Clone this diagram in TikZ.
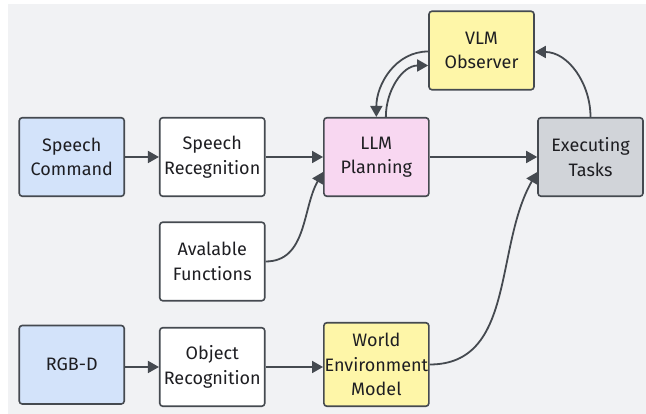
\documentclass[tikz,border=0pt]{standalone}
\usepackage{fontspec}
\setmainfont{Fira Sans}
\usetikzlibrary{arrows.meta}
\definecolor{bg}{HTML}{F1F2F4}
\definecolor{edge}{HTML}{454A50}
\definecolor{txt}{HTML}{1E1E22}
\definecolor{blue}{HTML}{D3E3FA}
\definecolor{pink}{HTML}{F8D7F1}
\definecolor{yell}{HTML}{FEF6A8}
\definecolor{grey}{HTML}{D1D4D9}
\begin{document}
\begin{tikzpicture}[x=1pt,y=1pt,
  box/.style={draw=edge, line width=1.6pt, rounded corners=3pt, minimum width=105pt,
    minimum height=78.5pt, inner sep=0pt, align=center, text=txt,
    font=\fontsize{18}{24.5}\selectfont},
  arr/.style={draw=edge, line width=1.8pt, -{Triangle[length=11pt,width=12pt]}}]
\useasboundingbox (0,0) rectangle (646,414);
\fill[white] (0,0) rectangle (646,414);
\fill[bg] (8,0) rectangle (646,410);

\node[box, fill=blue]  (sc)   at (71.75,257)  {Speech\\Command};
\node[box, fill=white] (sr)   at (212.25,257) {Speech\\Recegnition};
\node[box, fill=pink]  (llm)  at (376.35,257) {LLM\\Planning};
\node[box, fill=grey]  (ex)   at (590.5,257)  {Executing\\Tasks};
\node[box, fill=yell]  (vlm)  at (481.5,363.5) {VLM\\Observer};
\node[box, fill=white] (af)   at (212.25,152.5) {Avalable\\Functions};
\node[box, fill=blue]  (rgbd) at (71.75,49.25) {RGB-D};
\node[box, fill=white] (or)   at (212.25,47)  {Object\\Recognition};
\node[box, fill=yell, minimum height=83.5pt] (wem) at (376.35,49.5) {World\\Environment\\Model};

\draw[arr] (sc) -- (sr);
\draw[arr] (sr) -- (llm);
\draw[arr] (llm) -- (ex);
\draw[arr] (rgbd.east |- or.west) -- (or.west);
\draw[arr] (or.east) -- (wem.west |- or.east);
\draw[arr] (af.east) to[out=0,in=240] ([yshift=-15pt]llm.west);
\draw[arr] (wem.east) to[out=0,in=240] ([yshift=-15pt]ex.west);
\draw[arr] (ex.north) to[out=90,in=0] ([yshift=-1.5pt]vlm.east);
\draw[arr] ([yshift=-1pt]vlm.west) to[out=180,in=90] (llm.north);
\draw[arr] ([xshift=9.5pt]llm.north) to[out=90,in=180] ([yshift=-15pt]vlm.west);
\end{tikzpicture}
\end{document}
